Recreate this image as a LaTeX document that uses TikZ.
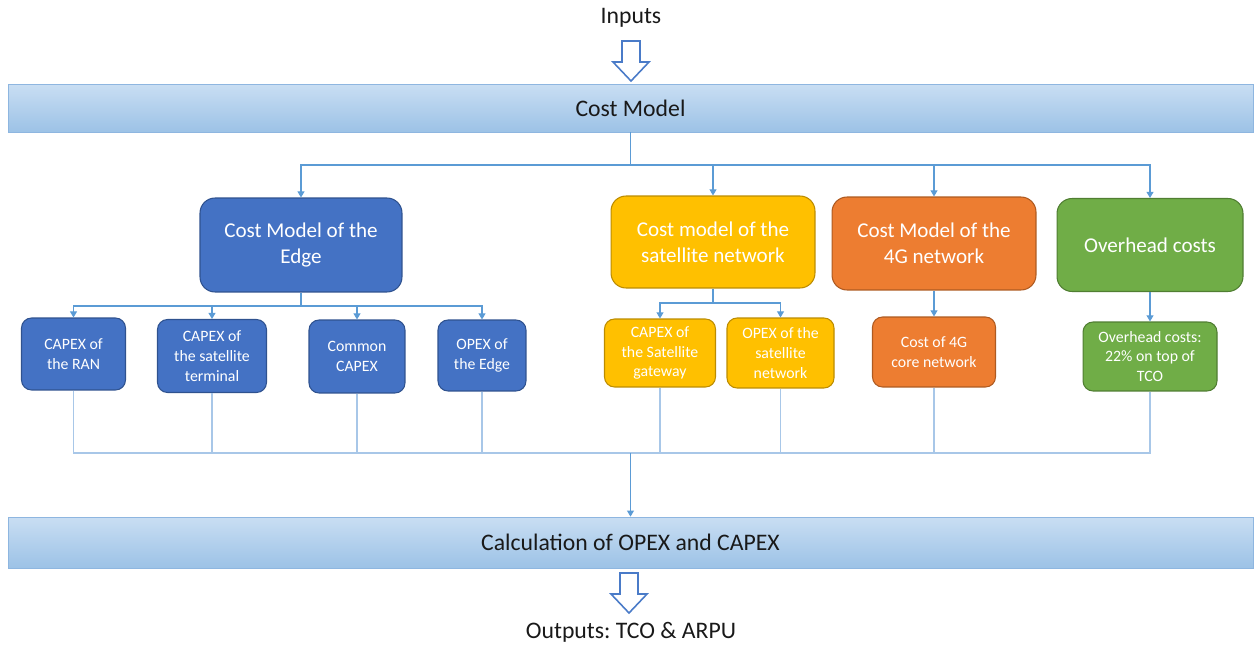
\documentclass[tikz,border=0pt]{standalone}
\usepackage{fontspec}
\setmainfont{Carlito}
\usepackage{xcolor}
\usetikzlibrary{arrows.meta}
\usetikzlibrary{positioning}
\frenchspacing
\definecolor{bandtop}{HTML}{C9DEF3}
\definecolor{bandbot}{HTML}{9CC2E6}
\definecolor{bandline}{HTML}{8EB6E0}
\definecolor{linkblue}{HTML}{5B9BD5}
\definecolor{mergeblue}{HTML}{A8C7E8}
\definecolor{hollowblue}{HTML}{4A7BC8}
\definecolor{edgefill}{HTML}{4472C4}
\definecolor{edgeline}{HTML}{2F528F}
\definecolor{satfill}{HTML}{FFC000}
\definecolor{satline}{HTML}{BC8C00}
\definecolor{fourgfill}{HTML}{ED7D31}
\definecolor{fourgline}{HTML}{AE5A21}
\definecolor{ohfill}{HTML}{70AD47}
\definecolor{ohline}{HTML}{507E32}

\tikzset{
  band/.style={draw=bandline, top color=bandtop, bottom color=bandbot, minimum width=24.9cm,
    text=black!90, font=\fontsize{13.5}{16}\selectfont},
  plain/.style={text=black!90, font=\fontsize{13.5}{16}\selectfont},
  topbox/.style={draw, rounded corners=0.3cm, line width=0.6pt, text=white, align=center,
    font=\fontsize{12}{14.7}\selectfont},
  subbox/.style={draw, rounded corners=0.2cm, line width=0.6pt, text=white, align=center,
    font=\fontsize{9}{11.2}\selectfont},
  link/.style={draw=linkblue, line width=0.6pt},
  arr/.style={link, -{Triangle[width=4pt,length=3.5pt]}},
  merge/.style={draw=mergeblue, line width=0.6pt},
  hollow/.style={draw=hollowblue, line width=0.9pt, fill=white, line join=miter},
}

\begin{document}
\begin{tikzpicture}[x=0.02cm, y=-0.02cm]
  \useasboundingbox (0,0) rectangle (1260,645);
  % inputs and bands
  \node[plain] (inputs) at (631,18) {Inputs};
  \node[band, minimum height=0.96cm] (costmodel) at (630.5,108) {Cost Model};
  \node[band, minimum height=1.02cm] (calc) at (630.5,542.5) {Calculation of OPEX and CAPEX};
  \node[plain] (outputs) at (631,632) {Outputs: TCO \& ARPU};
  % hollow arrows
  \coordinate (intop) at (631,41);
  \draw[hollow] (intop) ++(-9,0) -- ++(18,0) -- ++(0,21) -- ++(9,0) -- ++(-18,19)
    -- ++(-18,-19) -- ++(9,0) -- cycle;
  \coordinate (outtop) at (629,573);
  \draw[hollow] (outtop) ++(-9,0) -- ++(18,0) -- ++(0,21) -- ++(9,0) -- ++(-18,19)
    -- ++(-18,-19) -- ++(9,0) -- cycle;
  % first level
  \node[topbox, fill=edgefill, draw=edgeline, minimum width=4.04cm, minimum height=1.88cm]
    (edge) at (301,245) {Cost Model of the\\Edge};
  \node[topbox, fill=satfill, draw=satline, minimum width=4.08cm, minimum height=1.84cm]
    (sat) at (713,242) {Cost model of the\\satellite network};
  \node[topbox, fill=fourgfill, draw=fourgline, minimum width=4.08cm, minimum height=1.86cm]
    (fourg) at (934,243.5) {Cost Model of the\\4G network};
  \node[topbox, fill=ohfill, draw=ohline, minimum width=3.72cm, minimum height=1.86cm]
    (overhead) at (1150,245) {Overhead costs};
  % second level
  \node[subbox, fill=edgefill, draw=edgeline, minimum width=2.08cm, minimum height=1.44cm]
    (ran) at (73.5,354) {CAPEX of\\the RAN};
  \node[subbox, fill=edgefill, draw=edgeline, minimum width=2.18cm, minimum height=1.46cm]
    (terminal) at (212,356) {CAPEX of\\the satellite\\terminal};
  \node[subbox, fill=edgefill, draw=edgeline, minimum width=1.92cm, minimum height=1.46cm]
    (common) at (357,356.5) {Common\\CAPEX};
  \node[subbox, fill=edgefill, draw=edgeline, minimum width=1.76cm, minimum height=1.42cm]
    (opexedge) at (482,355.5) {OPEX of\\the Edge};
  \node[subbox, fill=satfill, draw=satline, minimum width=2.22cm, minimum height=1.36cm]
    (gateway) at (660,353) {CAPEX of\\the Satellite\\gateway};
  \node[subbox, fill=satfill, draw=satline, minimum width=2.14cm, minimum height=1.40cm]
    (satnet) at (780.5,353) {OPEX of the\\satellite\\network};
  \node[subbox, fill=fourgfill, draw=fourgline, minimum width=2.46cm, minimum height=1.40cm]
    (core) at (934,352) {Cost of 4G\\core network};
  \node[subbox, fill=ohfill, draw=ohline, minimum width=2.68cm, minimum height=1.38cm]
    (ohcost) at (1150,356.5) {Overhead costs:\\22\% on top of\\TCO};
  % connectors from the cost model
  \coordinate (split) at (630.5,165);
  \draw[link] (costmodel.south) -- (split);
  \foreach \n in {edge,sat,fourg,overhead}
    \draw[arr] (split) -| (\n.north);
  \coordinate (edgesplit) at (301,306);
  \draw[link] (edge.south) -- (edgesplit);
  \foreach \n in {ran,terminal,common,opexedge}
    \draw[arr] (edgesplit) -| (\n.north);
  \coordinate (satsplit) at (713,303);
  \draw[link] (sat.south) -- (satsplit);
  \foreach \n in {gateway,satnet}
    \draw[arr] (satsplit) -| (\n.north);
  \draw[arr] (fourg.south) -- (core.north);
  \draw[arr] (overhead.south) -- (ohcost.north);
  % connectors into the calculation
  \coordinate (merge) at (630.5,453);
  \foreach \n in {ran,terminal,common,opexedge,gateway,satnet,core,ohcost}
    \draw[merge] (\n.south) |- (merge);
  \draw[arr] (merge) -- (calc.north);
\end{tikzpicture}
\end{document}
